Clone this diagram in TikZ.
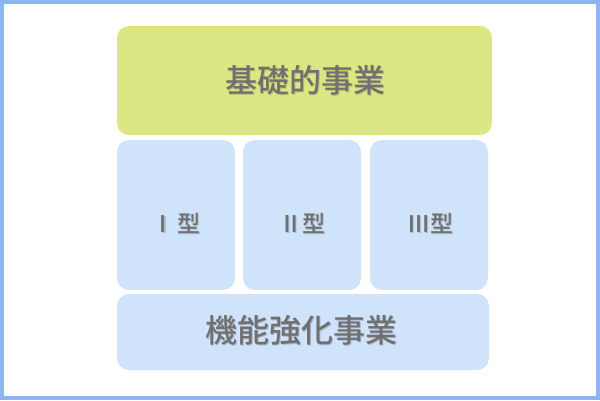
\documentclass[tikz,border=0pt]{standalone}
\usepackage{fontspec}
\newfontfamily\cjk{Noto Sans CJK JP Medium}
\definecolor{frameblue}{HTML}{8DB6F0}
\definecolor{boxgreen}{HTML}{DCE683}
\definecolor{boxblue}{HTML}{CFE3FB}
\definecolor{txtgray}{HTML}{707070}
\definecolor{shadowgreen}{HTML}{BDC26E}
\definecolor{shadowblue}{HTML}{ABBBCE}
\tikzset{
  block/.style={rounded corners=12pt},
  lbl/.style={text=txtgray, inner sep=0pt},
  big/.style={font=\cjk\fontsize{32}{32}\selectfont},
  small/.style={font=\cjk\fontsize{23}{23}\selectfont},
}
\begin{document}
\begin{tikzpicture}[x=1pt,y=-1pt]
\useasboundingbox (0,0) rectangle (600,400);
\fill[white] (0,0) rectangle (600,400);
\draw[frameblue, line width=4pt] (2,2) rectangle (598,398);
% blocks
\fill[boxgreen, block] (117,26) rectangle (492,135);
\fill[boxblue, block] (117,140) rectangle (235,290);
\fill[boxblue, block] (243,140) rectangle (361,290);
\fill[boxblue, block] (370,140) rectangle (488,290);
\fill[boxblue, block] (117,294) rectangle (489,370);
% texts with shadows
\node[lbl, big, text=shadowgreen] at (306.5,81.5) {基礎的事業};
\node[lbl, big] (base) at (305,80) {基礎的事業};
\node[lbl, big, text=shadowblue] at (302.5,331.5) {機能強化事業};
\node[lbl, big] (func) at (301,330) {機能強化事業};
\node[lbl, small, text=shadowblue] at (177.5,224.5) {Ⅰ\hspace{3pt}型};
\node[lbl, small] (t1) at (176,223) {Ⅰ\hspace{3pt}型};
\node[lbl, small, text=shadowblue] at (303.5,224.5) {Ⅱ型};
\node[lbl, small] (t2) at (302,223) {Ⅱ型};
\node[lbl, small, text=shadowblue] at (431.5,224.5) {Ⅲ型};
\node[lbl, small] (t3) at (430,223) {Ⅲ型};
\end{tikzpicture}
\end{document}
